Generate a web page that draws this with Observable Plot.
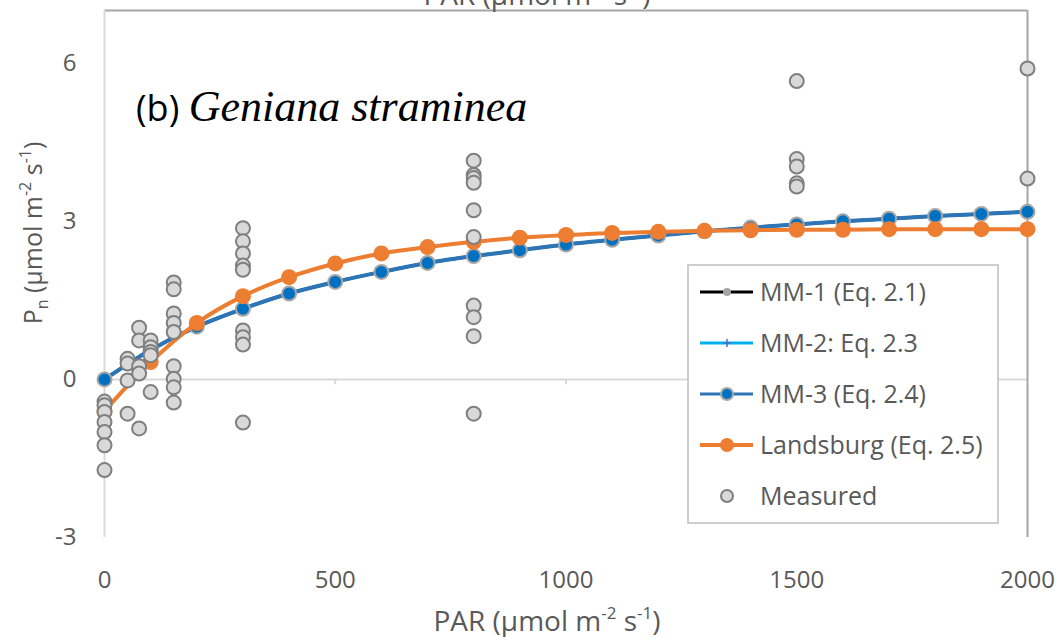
<!DOCTYPE html>
<html><head><meta charset="utf-8">
<script src="https://cdn.jsdelivr.net/npm/d3@7"></script>
<script src="https://cdn.jsdelivr.net/npm/@observablehq/plot@0.6"></script>
<style>
body{margin:0;background:#fff}
#chart{position:relative;width:1061px;height:637px;overflow:hidden}
</style>
</head><body><div id="chart"></div>
<script>
// ---- data ----
const xTicks = [0, 500, 1000, 1500, 2000];
const yTicks = [-3, 0, 3, 6];
const modelPAR = [0,100,200,300,400,500,600,700,800,900,1000,1100,1200,1300,1400,1500,1600,1700,1800,1900,2000];
const mm1 = [0,0.56,1.0,1.34,1.63,1.85,2.04,2.21,2.34,2.45,2.56,2.65,2.73,2.81,2.88,2.94,3.0,3.05,3.1,3.14,3.18];
const mm2 = [0,0.56,1.0,1.34,1.63,1.85,2.04,2.21,2.34,2.45,2.56,2.65,2.73,2.81,2.88,2.94,3.0,3.05,3.1,3.14,3.18];
const mm3 = [0,0.56,1.0,1.34,1.63,1.85,2.04,2.21,2.34,2.45,2.56,2.65,2.73,2.81,2.88,2.94,3.0,3.05,3.1,3.14,3.18];
const landsburg = [-0.6,0.33,1.07,1.58,1.94,2.2,2.39,2.51,2.61,2.69,2.74,2.78,2.8,2.82,2.83,2.84,2.84,2.85,2.85,2.85,2.85];
const measuredPAR = [0,0,0,0,0,0,0, 50,50,50,50, 75,75,75,75,75, 100,100,100,100,100,
  150,150,150,150,150,150,150,150,150, 300,300,300,300,300,300,300,300,300,
  800,800,800,800,800,800,800,800,800,800, 1500,1500,1500,1500,1500, 2000,2000];
const measuredPn = [-0.42,-0.49,-0.62,-0.81,-1.0,-1.25,-1.72, 0.39,0.3,-0.02,-0.65, 0.98,0.74,0.25,0.11,-0.93, 0.74,0.61,0.52,0.46,-0.24,
  1.84,1.71,1.25,1.07,0.9,0.25,0.01,-0.15,-0.44, 2.87,2.62,2.39,2.16,2.08,0.93,0.8,0.66,-0.82,
  4.15,3.88,3.82,3.73,3.21,2.7,1.4,1.18,0.82,-0.65, 5.66,4.18,4.04,3.72,3.66, 5.9,3.81];
const seriesNames = ["MM-1 (Eq. 2.1)", "MM-2: Eq. 2.3", "MM-3 (Eq. 2.4)", "Landsburg (Eq. 2.5)", "Measured"];
const panelLabel = "(b)";
const speciesName = "Geniana straminea";

// ---- tables ----
const toRows = (ys) => modelPAR.map((x, i) => ({x, y: ys[i]}));
const mm1Rows = toRows(mm1), mm2Rows = toRows(mm2), mm3Rows = toRows(mm3), lsRows = toRows(landsburg);
const measRows = measuredPAR.map((x, i) => ({x, y: measuredPn[i]}));

const FONT = "'Open Sans', sans-serif";
const TXT = "#595959";
const BLUE_LINE = "#2E75B6", BLUE_FILL = "#0070C0", ORANGE = "#ED7D31";

const svg = Plot.plot({
  width: 1061, height: 637,
  marginLeft: 104, marginRight: 34, marginTop: 10, marginBottom: 100,
  x: {domain: [0, 2000]},
  y: {domain: [-3, 7]},
  style: {fontFamily: FONT, fontSize: "24px", color: TXT, background: "white", overflow: "visible"},
  marks: [
    Plot.ruleY([0], {stroke: "#D9D9D9", strokeWidth: 2}),
    Plot.ruleY([7], {stroke: "#A6A6A6", strokeWidth: 2}),
    Plot.ruleX([0], {y1: -3, y2: 7, stroke: "#D9D9D9", strokeWidth: 2}),
    Plot.ruleX([2000], {y1: -3, y2: 7, stroke: "#A6A6A6", strokeWidth: 2}),
    Plot.ruleX(xTicks.slice(1, -1), {y1: 0, y2: -0.1, stroke: "#D9D9D9", strokeWidth: 2}),
    Plot.axisX({ticks: xTicks, tickSize: 0, tickPadding: 33, label: null, fill: TXT, tickFormat: d => String(d)}),
    Plot.axisY({ticks: yTicks, tickSize: 0, tickPadding: 28, label: null, fill: TXT, tickFormat: d => String(d)}),
    Plot.line(mm1Rows, {x: "x", y: "y", stroke: "black", strokeWidth: 3, curve: "catmull-rom"}),
    Plot.dot(mm1Rows, {x: "x", y: "y", r: 4, fill: "#A5A5A5"}),
    Plot.line(mm2Rows, {x: "x", y: "y", stroke: "#00B0F0", strokeWidth: 3, curve: "catmull-rom"}),
    Plot.line(mm3Rows, {x: "x", y: "y", stroke: BLUE_LINE, strokeWidth: 4, curve: "catmull-rom"}),
    Plot.dot(mm3Rows, {x: "x", y: "y", r: 7, fill: BLUE_FILL, stroke: "#A6A6A6", strokeWidth: 2}),
    Plot.line(lsRows, {x: "x", y: "y", stroke: ORANGE, strokeWidth: 4, curve: "catmull-rom"}),
    Plot.dot(lsRows, {x: "x", y: "y", r: 8, fill: ORANGE}),
    Plot.dot(measRows, {x: "x", y: "y", r: 7, fill: "#D9D9D9", stroke: "#7F7F7F", strokeWidth: 2})
  ]
});

const s = d3.select(svg);

function unitLabel(sel, pre, sub, fs) {
  const small = Math.round(fs * 0.62), up = Math.round(fs * 0.42);
  sel.append("tspan").text(pre);
  if (sub) {
    sel.append("tspan").attr("font-size", small).attr("dy", 6).text(sub);
    sel.append("tspan").attr("dy", -6).text(" (μmol m");
  } else {
    sel.append("tspan").text(" (μmol m");
  }
  sel.append("tspan").attr("font-size", small).attr("dy", -up).text("-2");
  sel.append("tspan").attr("dy", up).text(" s");
  sel.append("tspan").attr("font-size", small).attr("dy", -up).text("-1");
  sel.append("tspan").attr("dy", up).text(")");
}

// top (secondary) axis title, clipped by the page edge as in the reference
unitLabel(s.append("text").attr("x", 537).attr("y", 5).attr("text-anchor", "middle")
  .attr("font-family", FONT).attr("font-size", 28).attr("fill", TXT), "PAR", null, 28);
// bottom axis title
unitLabel(s.append("text").attr("x", 547).attr("y", 631).attr("text-anchor", "middle")
  .attr("font-family", FONT).attr("font-size", 28).attr("fill", TXT), "PAR", null, 28);
// y axis title
unitLabel(s.append("text").attr("transform", "translate(42,233) rotate(-90)").attr("text-anchor", "middle")
  .attr("font-family", FONT).attr("font-size", 25).attr("fill", TXT), "P", "n", 25);

// panel label
const lab = s.append("text").attr("x", 136).attr("y", 121).attr("fill", "black").attr("text-anchor", "start");
lab.append("tspan").attr("font-family", FONT).attr("font-size", 36).text(panelLabel + " ");
lab.append("tspan").attr("font-family", "'Liberation Serif', 'Times New Roman', serif")
  .attr("font-style", "italic").attr("font-size", 44).text(speciesName);

// legend
const lg = s.append("g");
lg.append("rect").attr("x", 688).attr("y", 265).attr("width", 310).attr("height", 258)
  .attr("fill", "white").attr("stroke", "#BFBFBF").attr("stroke-width", 1.5);
const rowY = [292, 343, 394, 445, 496];
seriesNames.forEach((name, i) => {
  const y = rowY[i];
  if (i === 0) {
    lg.append("line").attr("x1", 700).attr("x2", 753).attr("y1", y).attr("y2", y).attr("stroke", "black").attr("stroke-width", 3);
    lg.append("circle").attr("cx", 727).attr("cy", y).attr("r", 4).attr("fill", "#A5A5A5");
  } else if (i === 1) {
    lg.append("line").attr("x1", 700).attr("x2", 753).attr("y1", y).attr("y2", y).attr("stroke", "#00B0F0").attr("stroke-width", 3);
    lg.append("path").attr("d", `M${723},${y}h8M${727},${y-4}v8`).attr("stroke", "#4472C4").attr("stroke-width", 1.5);
  } else if (i === 2) {
    lg.append("line").attr("x1", 700).attr("x2", 753).attr("y1", y).attr("y2", y).attr("stroke", BLUE_LINE).attr("stroke-width", 3);
    lg.append("circle").attr("cx", 727).attr("cy", y).attr("r", 6).attr("fill", BLUE_FILL).attr("stroke", "#A6A6A6").attr("stroke-width", 2);
  } else if (i === 3) {
    lg.append("line").attr("x1", 700).attr("x2", 753).attr("y1", y).attr("y2", y).attr("stroke", ORANGE).attr("stroke-width", 4);
    lg.append("circle").attr("cx", 727).attr("cy", y).attr("r", 7).attr("fill", ORANGE);
  } else {
    lg.append("circle").attr("cx", 727).attr("cy", y).attr("r", 6).attr("fill", "#D9D9D9").attr("stroke", "#7F7F7F").attr("stroke-width", 2);
  }
  lg.append("text").attr("x", 760).attr("y", y).attr("dy", "0.35em").attr("font-family", FONT)
    .attr("font-size", 25).attr("fill", TXT).attr("text-anchor", "start").text(name);
});

document.getElementById("chart").appendChild(svg);
</script>
</body></html>
